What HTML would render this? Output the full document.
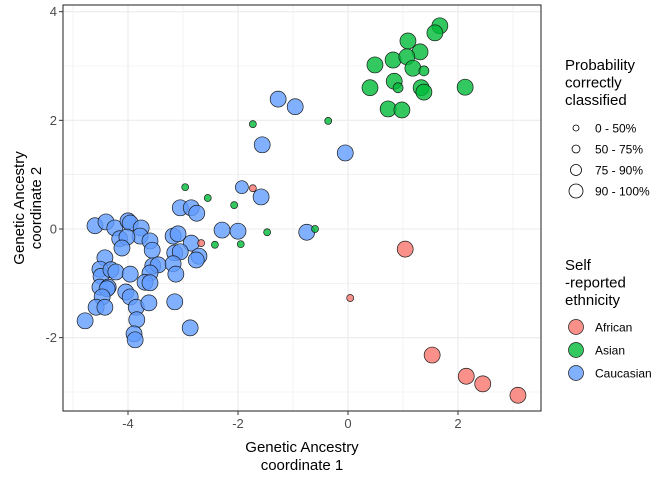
<!DOCTYPE html>
<html><head><meta charset="utf-8"><style>
body{margin:0;background:#fff}
svg{font-family:"Liberation Sans",Arial,sans-serif}
</style></head><body>
<svg id="c" width="672" height="480" xmlns="http://www.w3.org/2000/svg"></svg>
<script>
const blueX=[-1.93,-1.58,-3.05,-2.85,-2.75,-2.29,-2.0,-4.6,-4.4,-4.24,-4.0,-3.96,-3.76,-3.78,-4.15,-4.02,-3.6,-4.11,-3.56,-3.18,-3.09,-2.85,-3.15,-3.05,-2.71,-2.76,-4.42,-4.51,-4.49,-4.31,-4.22,-3.96,-3.55,-3.45,-3.6,-3.18,-3.13,-3.69,-3.6,-4.51,-4.36,-4.38,-4.04,-3.96,-4.47,-4.58,-4.42,-3.85,-3.62,-3.15,-4.78,-3.84,-2.87,-3.89,-3.87,-1.27,-0.96,-1.56,-0.05,-0.75];
const blueY=[0.77,0.59,0.39,0.39,0.29,-0.02,-0.04,0.06,0.13,0.02,0.15,0.11,0.02,-0.13,-0.18,-0.15,-0.22,-0.35,-0.39,-0.13,-0.09,-0.26,-0.44,-0.42,-0.5,-0.57,-0.53,-0.74,-0.87,-0.75,-0.79,-0.83,-0.68,-0.66,-0.81,-0.64,-0.83,-0.98,-0.99,-1.07,-1.07,-1.1,-1.16,-1.25,-1.25,-1.44,-1.44,-1.44,-1.36,-1.34,-1.69,-1.67,-1.82,-1.93,-2.04,2.39,2.25,1.55,1.4,-0.06];
const blueS=[3,4,4,4,4,4,4,4,4,4,4,4,4,4,4,4,4,4,4,4,4,4,4,4,4,4,4,4,4,4,4,4,4,4,4,4,4,4,4,4,4,4,4,4,4,4,4,4,4,4,4,4,4,4,4,4,4,4,4,4];
const greenX=[1.67,1.58,1.09,1.31,0.82,1.07,0.49,1.18,1.38,0.84,0.91,0.4,1.33,1.38,2.13,0.73,0.98,-2.96,-2.55,-2.07,-1.47,-2.42,-1.95,-1.73,-0.36,-0.6];
const greenY=[3.74,3.61,3.46,3.26,3.11,3.17,3.02,2.96,2.91,2.72,2.6,2.6,2.6,2.52,2.61,2.21,2.19,0.77,0.57,0.44,-0.06,-0.29,-0.28,1.93,1.99,0.0];
const greenS=[4,4,4,4,4,4,4,4,2,4,2,4,4,4,4,4,4,1,1,1,1,1,1,1,1,1];
const redX=[-1.73,-2.67,0.04,1.04,1.53,2.15,2.45,3.09];
const redY=[0.75,-0.26,-1.27,-0.37,-2.32,-2.71,-2.85,-3.06];
const redS=[1,1,1,4,4,4,4,4];
const xTicks=[-4,-2,0,2];
const yTicks=[-2,0,2,4];
const sizeLabels=["0  - 50%","50 - 75%","75 - 90%","90 - 100%"];
const groups=["African","Asian","Caucasian"];

const NS="http://www.w3.org/2000/svg";
const svg=document.getElementById('c');
const L=63,R=541,T=5,B=411;
const sx=v=>348+v*55;
const sy=v=>229-v*54.33;
const rad=[0,3.5,5,6.5,8];
function el(t,a,p){const e=document.createElementNS(NS,t);for(const k in a)e.setAttribute(k,a[k]);(p||svg).appendChild(e);return e;}
function txt(x,y,s,a){const e=el('text',Object.assign({x:x,y:y,'font-size':13,fill:'#4d4d4d'},a||{}));e.textContent=s;return e;}

const bg=el('rect',{x:L,y:T,width:R-L,height:B-T,fill:'#fff'});


for(let v=-5;v<=3;v+=1){const x=sx(v);if(x>L&&x<R){const g=el('line',{x1:x,x2:x,y1:T,y2:B,stroke:'#ebebeb','stroke-width':v%2===0?1.1:0.6});}}
for(let v=-3;v<=4;v+=1){const y=sy(v);if(y>T&&y<B){const g=el('line',{x1:L,x2:R,y1:y,y2:y,stroke:'#ebebeb','stroke-width':v%2===0?1.1:0.6});}}
function pts(X,Y,S,col,name){for(let i=0;i<X.length;i++){const c=el('circle',{cx:sx(X[i]),cy:sy(Y[i]),r:rad[S[i]],fill:col,'fill-opacity':0.8,stroke:'#1a1a1a','stroke-width':0.7});}}
pts(blueX,blueY,blueS,'#619CFF','caucasian-point');
pts(greenX,greenY,greenS,'#00BA38','asian-point');
pts(redX,redY,redS,'#F8766D','african-point');
const fr=el('rect',{x:L,y:T,width:R-L,height:B-T,fill:'none',stroke:'#333','stroke-width':1.1});


xTicks.forEach(v=>{const x=sx(v);el('line',{x1:x,x2:x,y1:B,y2:B+4,stroke:'#333'});const t=txt(x,B+17,String(v).replace('-','-'),{'text-anchor':'middle'});});
yTicks.forEach(v=>{const y=sy(v);el('line',{x1:L-4,x2:L,y1:y,y2:y,stroke:'#333'});const t=txt(L-6,y+4.5,String(v),{'text-anchor':'end'});});
let t=txt(302,452,'Genetic Ancestry',{'text-anchor':'middle','font-size':15,fill:'#000'});
txt(302,470,'coordinate 1',{'text-anchor':'middle','font-size':15,fill:'#000'});
const yg=el('g',{transform:'translate(24,208) rotate(-90)'});


let a=el('text',{x:0,y:0,'text-anchor':'middle','font-size':15},yg);a.textContent='Genetic Ancestry';
a=el('text',{x:0,y:17,'text-anchor':'middle','font-size':15},yg);a.textContent='coordinate 2';
// size legend
['Probability','correctly','classified'].forEach((s,i)=>{const e=txt(565,70+i*17.5,s,{'font-size':15,fill:'#000'});});
const lr=[3,4,5.5,7];
sizeLabels.forEach((s,i)=>{const y=128+i*21;const c=el('circle',{cx:576,cy:y,r:lr[i],fill:'none',stroke:'#000','stroke-width':0.8});const e=txt(595,y+4.5,s,{'font-size':12,fill:'#000'});});
['Self','-reported','ethnicity'].forEach((s,i)=>{const e=txt(565,270+i*17.5,s,{'font-size':15,fill:'#000'});});
const cols=['#F8766D','#00BA38','#619CFF'];
groups.forEach((s,i)=>{const y=327+i*23;const c=el('circle',{cx:576,cy:y,r:7.5,fill:cols[i],'fill-opacity':0.8,stroke:'#1a1a1a','stroke-width':0.7});const e=txt(595,y+4.5,s,{'font-size':12,fill:'#000'});});
</script>
</body></html>
